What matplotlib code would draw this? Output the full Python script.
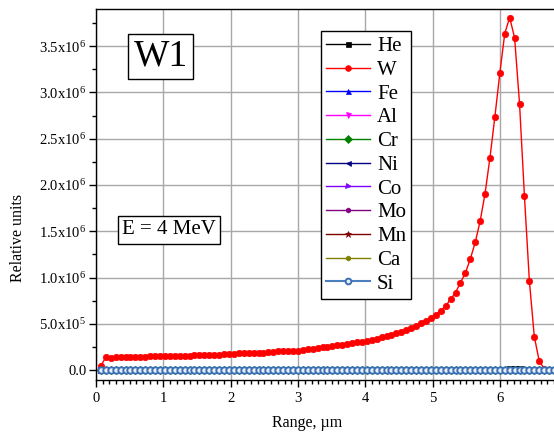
import numpy as np
import matplotlib
matplotlib.use("Agg")
import matplotlib.pyplot as plt
from matplotlib.ticker import FuncFormatter, MultipleLocator

plt.rcParams['font.family'] = ['Liberation Serif', 'DejaVu Serif']
plt.rcParams['mathtext.fontset'] = 'custom'
plt.rcParams['mathtext.rm'] = 'Liberation Serif'
plt.rcParams['mathtext.it'] = 'Liberation Serif:italic'

# depth grid (µm), 93 bins over 0..6.8
step = 6.8 / 93
depth = [round(step * i, 4) for i in range(1, 94)]

# W ion distribution (units of 1e6)
w_vals = [
    0.050, 0.140, 0.135, 0.142, 0.145, 0.140, 0.142, 0.148, 0.138, 0.145,
    0.152, 0.150, 0.155, 0.158, 0.152, 0.150, 0.155, 0.158, 0.152, 0.162,
    0.160, 0.163, 0.160, 0.165, 0.162, 0.175, 0.178, 0.172, 0.182, 0.183,
    0.185, 0.186, 0.185, 0.190, 0.195, 0.200, 0.212, 0.205, 0.207, 0.205,
    0.205, 0.215, 0.225, 0.235, 0.240, 0.248, 0.255, 0.262, 0.270, 0.278,
    0.288, 0.295, 0.300, 0.308, 0.315, 0.325, 0.340, 0.355, 0.370, 0.385,
    0.400, 0.415, 0.435, 0.460, 0.480, 0.505, 0.535, 0.565, 0.600, 0.645,
    0.694, 0.767, 0.838, 0.946, 1.050, 1.200, 1.380, 1.609, 1.908, 2.296,
    2.739, 3.207, 3.635, 3.808, 3.589, 2.879, 1.879, 0.964, 0.363, 0.100,
    0.017, 0.003, 0.0,
]
he_vals = [0.0] * 82 + [0.008, 0.012, 0.014, 0.012, 0.006] + [0.0] * 6
zero_vals = [0.0] * 93

species = ["He", "W", "Fe", "Al", "Cr", "Ni", "Co", "Mo", "Mn", "Ca", "Si"]
colors = ["#000000", "#ff0000", "#0000ff", "#ff00ff", "#008000", "#000080",
          "#8000ff", "#800080", "#800000", "#808000", "#4a7fc0"]
markers = ["s", "o", "^", "v", "D", "<", ">", "h", "*", "h", "o"]
values = {s: zero_vals for s in species}
values["He"] = he_vals
values["W"] = w_vals

fig = plt.figure(figsize=(5.54, 4.32), dpi=100)
ax = fig.add_axes([96/554, 52/432, 1 - 96/554, (380-9)/432])

for s, c, m in zip(species, colors, markers):
    y = np.array(values[s]) * 1e6
    kw = dict(color=c, marker=m, markersize=4, lw=1.0, label=s,
              markeredgewidth=0.5)
    if s == "W":
        kw.update(markersize=4.6)
    if s == "Si":
        kw.update(markerfacecolor="#e8f0fa", markeredgecolor="#3d6fb3",
                  markersize=4.6, markeredgewidth=1.4, lw=1.5)
    elif s == "Mn":
        kw.update(markersize=5)
    ax.plot(depth, y, **kw)

ax.set_xlim(0, 6.8)
ax.set_ylim(-0.105e6, 3.9e6)
ax.xaxis.set_major_locator(MultipleLocator(1))
ax.xaxis.set_minor_locator(MultipleLocator(0.1))
ax.yaxis.set_major_locator(MultipleLocator(0.5e6))
ax.yaxis.set_minor_locator(MultipleLocator(0.25e6))

def yfmt(v, pos):
    if abs(v) < 1:
        return "0.0"
    exp = int(np.floor(np.log10(abs(v))))
    mant = v / 10**exp
    return r"%.1fx10$^{%d}$" % (mant, exp)

ax.yaxis.set_major_formatter(FuncFormatter(yfmt))
ax.grid(True, which="major", color="#a8a8a8", lw=1.0)
ax.set_axisbelow(True)
ax.tick_params(which="major", direction="out", length=5, width=1,
               labelsize=10.5, pad=2)
ax.tick_params(which="minor", direction="out", length=3, width=1)
ax.tick_params(axis="x", pad=4)
for sp in ["left", "bottom", "top"]:
    ax.spines[sp].set_linewidth(1.0)
ax.spines["right"].set_visible(False)

fig.text(18/554, 194/432, "Relative units", rotation=90, ha="center",
         va="center", fontsize=11.5)
fig.text(307/554, 9/432, "Range, µm", ha="center", va="center",
         fontsize=11.5)

fig.text(160.7/554, (432-56)/432, "W1", ha="center", va="center",
         fontsize=27,
         bbox=dict(boxstyle="square,pad=0.14", fc="white", ec="black", lw=1))
fig.text(169/554, (432-230)/432, "E = 4 MeV", ha="center", va="center",
         fontsize=15,
         bbox=dict(boxstyle="square,pad=0.2", fc="white", ec="black", lw=1))

leg = ax.legend(loc="upper left", bbox_to_anchor=(320.7/554, (432-31.3)/432),
                bbox_transform=fig.transFigure, fontsize=15, frameon=True,
                fancybox=False, framealpha=1, edgecolor="black",
                handlelength=2.1, handletextpad=0.35, labelspacing=0.2,
                borderpad=0.25, borderaxespad=0, markerscale=0.9)
leg.get_frame().set_linewidth(1.0)

fig.savefig("out.png", dpi=100)
